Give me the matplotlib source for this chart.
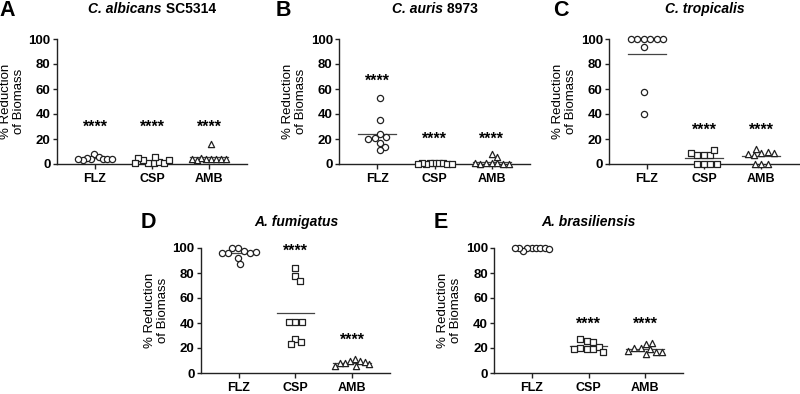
import numpy as np
import matplotlib
matplotlib.use('Agg')
from matplotlib import pyplot as plt
from matplotlib.offsetbox import TextArea, HPacker, AnnotationBbox

plt.rcParams['font.family'] = ['Liberation Sans', 'DejaVu Sans']
plt.rcParams['font.weight'] = 'bold'

drugs = ['FLZ', 'CSP', 'AMB']
markers = ['o', 's', '^']

# データ (% reduction of biomass)
albicans = [[8, 6, 4, 5, 4, 3, 4, 4, 4],
            [1, 2, 1, 3, 1, 3, 5, 6, 1],
            [16, 4, 4, 4, 4, 5, 3, 4, 4]]
auris = [[53, 35, 24, 22, 21, 20, 17, 14, 11],
         [1, 0.5, 1, 0.5, 0, 0.5, 0, 0, 0],
         [8, 6, 1, 1, 0.5, 0, 0, 0.5, 0]]
tropicalis = [[100, 100, 100, 100, 100, 100, 94, 58, 40],
              [7, 7, 7, 11, 9, 0, 0, 0, 0],
              [9, 10, 12, 7, 9, 8, 0, 0, 0]]
fumigatus = [[100, 98, 100, 96, 96, 96, 97, 92, 87],
             [84, 78, 74, 41, 41, 41, 27, 25, 23],
             [11, 10, 10, 9, 8, 8, 7, 6, 6]]
brasiliensis = [[100, 100, 100, 100, 98, 100, 100, 100, 99],
                [26, 25, 27, 19, 19, 20, 19, 21, 17],
                [23, 24, 20, 19, 15, 17, 20, 17, 18]]

# 有意差マーク(****)の高さ
stars_albicans = [29, 29, 29]
stars_auris = [66, 20, 20]
stars_tropicalis = [None, 27, 27]
stars_fumigatus = [None, 97, 26]
stars_brasiliensis = [None, 39, 39]

panels = [
   ('A', 'C. albicans', ' SC5314', albicans, stars_albicans),
   ('B', 'C. auris', ' 8973', auris, stars_auris),
   ('C', 'C. tropicalis', '', tropicalis, stars_tropicalis),
   ('D', 'A. fumigatus', '', fumigatus, stars_fumigatus),
   ('E', 'A. brasiliensis', '', brasiliensis, stars_brasiliensis),
]

W, H = 800, 394
# axes rectangles in pixels: left, top, right, bottom
rects = [(57, 39, 247, 164), (339, 39, 530, 164), (609, 39, 799, 164),
         (201, 248, 390, 373), (494, 248, 683, 373)]
letter_pos = [(7.5, 11), (283, 11), (561, 11), (148, 222), (441, 222)]
title_pos = [(152, 9), (435, 9), (705, 9), (296, 222), (588, 222)]


def swarm(ax, x0, vals, d, half_max):
   # 点が重ならないように横にずらす (pixel単位)
   pts = ax.transData.transform(np.column_stack([np.full(len(vals), x0), vals]))
   ppu = ax.transData.transform([[1, 0]])[0, 0] - ax.transData.transform([[0, 0]])[0, 0]
   placed = []
   for y in pts[:, 1]:
      cands = [0.0]
      for px, py in placed:
         dy = abs(y - py)
         if dy < d:
            dx = np.sqrt(d * d - dy * dy)
            cands += [px + dx, px - dx]
      cands.sort(key=abs)
      for c in cands:
         if all((c - px) ** 2 + (y - py) ** 2 >= d * d - 1e-6 for px, py in placed):
            break
      placed.append((c, y))
   off = np.array([p[0] for p in placed])
   off -= (off.max() + off.min()) / 2
   wide = np.abs(off).max()
   if wide > half_max:
      off *= half_max / wide
   return x0 + off / ppu


fig = plt.figure(figsize=(W / 100, H / 100), dpi=100)

for (letter, ital, rest, data, stars), (l, t, r, b), lp, tp in zip(panels, rects, letter_pos, title_pos):
   ax = fig.add_axes([l / W, 1 - b / H, (r - l) / W, (b - t) / H])
   ax.set_xlim(-0.667, 2.667)
   ax.set_ylim(0, 100)
   for s in ['top', 'right']:
      ax.spines[s].set_visible(False)
   for s in ['left', 'bottom']:
      ax.spines[s].set_linewidth(1.0)
      ax.spines[s].set_color('#222222')
   ax.set_yticks([0, 20, 40, 60, 80, 100])
   ax.set_xticks(range(3))
   ax.set_xticklabels(drugs)
   ax.tick_params(axis='y', length=3, width=1.0, color='#222222', labelsize=9.5, pad=1.5)
   ax.tick_params(axis='x', length=3.5, width=1.0, color='#222222', labelsize=9, pad=3)
   ax.set_ylabel('% Reduction\nof Biomass', fontsize=9.5, linespacing=1.1)
   ax.yaxis.set_label_coords(-32 / (r - l), 0.5)

   for i, vals in enumerate(data):
      xs = swarm(ax, i, vals, 6.5, 17)
      ax.scatter(xs, vals, s=20, marker=markers[i], facecolor='white',
                 edgecolor='#222222', linewidth=0.9, zorder=3, clip_on=False)
      m = np.mean(vals)
      ax.plot([i - 0.33, i + 0.33], [m, m], color='#444444', lw=0.9, zorder=2)
      if stars[i] is not None:
         ax.text(i, stars[i], '****', ha='center', va='center', fontsize=11.5)

   fig.text(lp[0] / W, 1 - lp[1] / H, letter, fontsize=15.5, ha='center', va='center')

   items = [TextArea(ital, textprops=dict(fontsize=10, style='italic', weight='bold'))]
   if rest:
      items.append(TextArea(rest, textprops=dict(fontsize=10, weight='bold')))
   box = HPacker(children=items, pad=0, sep=0, align='baseline')
   ab = AnnotationBbox(box, (tp[0] / W, 1 - tp[1] / H), xycoords='figure fraction',
                       frameon=False, box_alignment=(0.5, 0.5), pad=0)
   fig.add_artist(ab)

fig.savefig('out.png', dpi=100)
